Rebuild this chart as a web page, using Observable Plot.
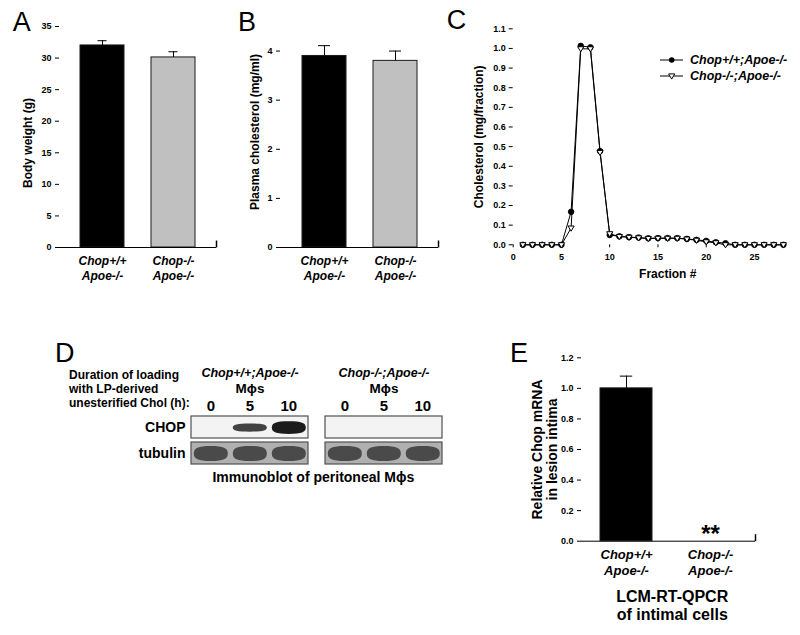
<!DOCTYPE html>
<html><head><meta charset="utf-8">
<script src="https://cdn.jsdelivr.net/npm/d3@7"></script>
<script src="https://cdn.jsdelivr.net/npm/@observablehq/plot@0.6"></script>
<style>
body{margin:0;background:#fff;}
#root{position:relative;width:800px;height:635px;overflow:hidden;font-family:"Liberation Sans",Arial,sans-serif;color:#000;background:#fff;}
.abs{position:absolute;white-space:pre;}
</style></head><body><div id="root"></div>
<script>
// ---------- data ----------
const genotypes = ["Chop+/+\nApoe-/-", "Chop-/-\nApoe-/-"];
const barFills = ["#000000", "#c0c0c0"];
const bodyWeight = [32.0, 30.1];
const bodyWeightErr = [0.75, 0.9];
const plasmaChol = [3.9, 3.8];
const plasmaCholErr = [0.21, 0.2];
const chopMrna = [1.0, 0.0];
const chopMrnaErr = [0.08, 0];
const chopMrnaSig = ["", "**"];

const fractions = [1,2,3,4,5,6,7,8,9,10,11,12,13,14,15,16,17,18,19,20,21,22,23,24,25,26,27,28];
const cholWT = [0,0,0,0,0,0.168,1.013,1.006,0.477,0.05,0.043,0.039,0.037,0.033,0.034,0.034,0.034,0.03,0.025,0.02,0.013,0.008,0,0,0,0,0,0];
const cholKO = [0,0,0,0,0,0.085,0.998,0.998,0.47,0.056,0.042,0.038,0.035,0.032,0.033,0.033,0.033,0.029,0.023,0.015,0.01,0,0,0,0,0,0,0];
const seriesNames = ["Chop+/+;Apoe-/-", "Chop-/-;Apoe-/-"];

const ticksA = [0,5,10,15,20,25,30,35];
const ticksB = [0,1,2,3,4];
const ticksCy = [0,0.1,0.2,0.3,0.4,0.5,0.6,0.7,0.8,0.9,1.0,1.1];
const ticksCx = [0,5,10,15,20,25];
const ticksE = [0,0.2,0.4,0.6,0.8,1.0,1.2];

const blotGroups = ["Chop+/+;Apoe-/-", "Chop-/-;Apoe-/-"];
const blotLanes = ["0","5","10"];
const blotRows = ["CHOP","tubulin"];
const blotCHOP = [[0,0.55,0.85],[0,0,0]];
const blotTubulin = [[1,1,1],[1,1,1]];

// ---------- helpers ----------
const root = document.getElementById("root");
const FONT = '"Liberation Sans", Arial, sans-serif';
const baseStyle = {fontFamily: FONT, fontWeight: "bold", background: "transparent", color: "black", overflow: "visible"};
function put(el, left, top){ el.style.position="absolute"; el.style.left=left+"px"; el.style.top=top+"px"; root.appendChild(el); return el; }
function txt(s, left, top, css){ const d=document.createElement("div"); d.className="abs"; d.textContent=s; Object.assign(d.style, css||{}); return put(d,left,top); }
const tickUp = {draw(ctx){ ctx.moveTo(0,0); ctx.lineTo(0,-7); }};
const triangleDown = {draw(ctx,size){ const r=Math.sqrt(size/Math.PI); ctx.moveTo(-r*1.1,-r*0.75); ctx.lineTo(r*1.1,-r*0.75); ctx.lineTo(0,r*1.1); ctx.closePath(); }};
const bandShape = {draw(ctx,size){ const ry=Math.sqrt(size/Math.PI), rx=17, k=0.75;
  ctx.moveTo(-rx,0); ctx.bezierCurveTo(-rx,-k*ry,-k*rx,-ry,0,-ry); ctx.bezierCurveTo(k*rx,-ry,rx,-k*ry,rx,0);
  ctx.bezierCurveTo(rx,k*ry,k*rx,ry,0,ry); ctx.bezierCurveTo(-k*rx,ry,-rx,k*ry,-rx,0); ctx.closePath(); }};

function barPanel(o){
  const data = genotypes.map((g,i)=>({g, v:o.values[i], e:o.errs[i], s:o.sig?o.sig[i]:"", fill:barFills[i]}));
  const marks = [
    Plot.barY(data, {x:"g", y:"v", fill:"fill", stroke:"#1a1a1a", strokeWidth:1}),
    Plot.ruleX(data.filter(d=>d.e>0), {x:"g", y1:"v", y2:d=>d.v+d.e, stroke:"black"}),
    Plot.tickY(data.filter(d=>d.e>0), {x:"g", y:d=>d.v+d.e, insetLeft:o.capInset, insetRight:o.capInset, stroke:"black"}),
    Plot.ruleY([0], {stroke:"black"}),
    Plot.axisY({ticks:o.ticks, tickSize:4, tickPadding:4, tickFormat:o.fmt, label:null, line:true, fontSize:9}),
    Plot.dot([0], {frameAnchor:"bottom-right", symbol:tickUp, stroke:"black", r:3}),
    Plot.text(data, {x:"g", text:"g", frameAnchor:"bottom", dy:o.catDy, lineAnchor:"top", lineHeight:o.catLH, fontSize:o.catSize, fontStyle:"italic"}),
    Plot.text([o.label], {text:d=>d, frameAnchor:"left", textAnchor:"middle", lineAnchor:"middle", rotate:-90, dx:o.labelDx, dy:o.labelDy, fontSize:o.labelSize, lineHeight:o.labelLH||1.1})
  ];
  if (o.sig) marks.push(Plot.text(data, {x:"g", y:"v", text:"s", dy:-7, fontSize:24}));
  if (o.caption) marks.push(Plot.text([o.caption], {text:d=>d, frameAnchor:"bottom", dx:o.capDx, dy:o.capDy, lineAnchor:"top", fontSize:16, lineHeight:1.14}));
  const p = Plot.plot({
    width:o.width, height:o.height, marginLeft:o.ml, marginRight:o.mr, marginTop:o.mt, marginBottom:o.mb,
    style:{...baseStyle, fontSize:"9px"},
    color:{type:"identity"},
    x:{type:"band", domain:genotypes, paddingInner:o.pi, paddingOuter:o.po, axis:null},
    y:{domain:[0,o.yMax], axis:null},
    marks
  });
  return put(p, o.left, o.top);
}

// ---------- Panel A ----------
barPanel({values:bodyWeight, errs:bodyWeightErr, ticks:ticksA, yMax:35, fmt:d=>d,
  left:0, top:0, width:230, height:300, ml:59, mr:14, mt:26, mb:53, pi:0.375, po:0.278, capInset:17.5,
  label:"Body weight (g)", labelDx:-32, labelDy:6, labelSize:12, catDy:8, catLH:1.17, catSize:12});

// ---------- Panel B ----------
barPanel({values:plasmaChol, errs:plasmaCholErr, ticks:ticksB, yMax:4.5, fmt:d=>d,
  left:220, top:0, width:230, height:300, ml:60, mr:12, mt:26, mb:53, pi:0.385, po:0.303, capInset:16,
  label:"Plasma cholesterol (mg/ml)", labelDx:-26, labelDy:-5, labelSize:12, catDy:8, catLH:1.17, catSize:12});

// ---------- Panel C ----------
{
  const dataC = [];
  seriesNames.forEach((s,si)=>fractions.forEach((f,i)=>dataC.push({s, f, v:(si===0?cholWT:cholKO)[i]})));
  const p = Plot.plot({
    width:370, height:300, marginLeft:82.7, marginRight:14.2, marginTop:28.3, marginBottom:55.7,
    style:{...baseStyle, fontSize:"9px"},
    x:{domain:[0,28.3], axis:null}, y:{domain:[0,1.1], axis:null},
    marks:[
      Plot.axisX({ticks:ticksCx, tickSize:3, tickPadding:6, label:null, line:true, fontSize:9}),
      Plot.axisY({ticks:ticksCy, tickSize:4, tickPadding:3.5, tickFormat:".1f", label:null, line:true, fontSize:9}),
      Plot.line(dataC, {x:"f", y:"v", z:"s", stroke:"black", strokeWidth:1}),
      Plot.dot(dataC.filter(d=>d.s===seriesNames[0]), {x:"f", y:"v", r:2.8, fill:"black", stroke:"black", strokeWidth:0.8}),
      Plot.dot(dataC.filter(d=>d.s===seriesNames[1]), {x:"f", y:"v", r:2.8, symbol:triangleDown, fill:"white", stroke:"black", strokeWidth:1}),
      Plot.text(["Fraction #"], {text:d=>d, frameAnchor:"bottom", dx:18, dy:32.7, fontSize:12}),
      Plot.text(["Cholesterol (mg/fraction)"], {text:d=>d, frameAnchor:"left", textAnchor:"middle", rotate:-90, dx:-34, dy:0, fontSize:12})
    ]
  });
  put(p, 430, 0);
  // legend
  const lg = d3.create("svg").attr("width",145).attr("height",36).style("overflow","visible");
  seriesNames.forEach((s,i)=>{
    const y = 10 + i*16;
    lg.append("line").attr("x1",5).attr("x2",28).attr("y1",y).attr("y2",y).attr("stroke","black");
    if (i===0) lg.append("circle").attr("cx",16.7).attr("cy",y).attr("r",2.8).attr("fill","black");
    else { const r=2.8; lg.append("path").attr("d",`M${16.7-r*1.1},${y-r*0.75}L${16.7+r*1.1},${y-r*0.75}L16.7,${y+r*1.1}Z`).attr("fill","white").attr("stroke","black"); }
    lg.append("text").attr("x",35).attr("y",y).attr("dy","0.35em").text(s)
      .attr("font-family",FONT).attr("font-weight","bold").attr("font-style","italic").attr("font-size",12.5);
  });
  put(lg.node(), 655, 50);
}

// ---------- Panel D ----------
{
  const blotData = [];
  blotGroups.forEach((g,gi)=>blotLanes.forEach((l,li)=>{
    blotData.push({g, lane:l, row:"CHOP", v:blotCHOP[gi][li]});
    blotData.push({g, lane:l, row:"tubulin", v:blotTubulin[gi][li]});
  }));
  const boxes = blotGroups.flatMap(g=>blotRows.map(r=>({g, row:r})));
  const p = Plot.plot({
    width:460, height:140, marginLeft:190.7, marginRight:18.3, marginTop:75, marginBottom:16,
    style:{...baseStyle, fontSize:"15px"},
    color:{type:"identity"},
    fx:{domain:blotGroups, paddingInner:0.13, paddingOuter:0, axis:null, label:null},
    x:{domain:blotLanes, paddingInner:0, paddingOuter:0, axis:null},
    y:{domain:blotRows, paddingInner:0.17, paddingOuter:0, axis:null},
    r:{type:"linear", domain:[0,1], range:[0,7.5]},
    marks:[
      Plot.cell(boxes, {fx:"g", y:"row", fill:d=>d.row==="CHOP"?"#f3f3f3":"#b0b0b0"}),
      Plot.dot(blotData, {fx:"g", x:"lane", y:"row", r:"v", symbol:bandShape,
        fill:d=>d.row==="CHOP"?"#080808":"#4a4a4a", fillOpacity:d=>d.row==="CHOP"?0.45+0.55*d.v:1, ariaLabel:"band"}),
      Plot.cell(boxes, {fx:"g", y:"row", fill:"none", stroke:"#505050", strokeWidth:1.2}),
      Plot.axisX({anchor:"top", tickSize:0, tickPadding:5, label:null, fontSize:15}),
      Plot.axisY({anchor:"left", tickSize:0, tickPadding:6, label:null, fontSize:14}),
      Plot.text(blotGroups, {fx:d=>d, text:d=>d, frameAnchor:"top", dy:-47, fontStyle:"italic", fontSize:12.5}),
      Plot.text(blotGroups, {fx:d=>d, text:()=>"Mϕs", frameAnchor:"top", dy:-32, fontSize:13.5})
    ]
  });
  d3.select(p).selectAll('g[aria-label="band"]').style("filter","blur(1.6px)");
  put(p, 0, 340);
  txt("Duration of loading\nwith LP-derived\nunesterified Chol (h):", 69, 368, {fontSize:"12px", fontWeight:"bold", lineHeight:"14.2px"});
  const cap = txt("Immunoblot of peritoneal Mϕs", 313.3, 469.7, {fontSize:"14px", fontWeight:"bold", lineHeight:"14px"});
  cap.style.transform = "translateX(-50%)";
}

// ---------- Panel E ----------
barPanel({values:chopMrna, errs:chopMrnaErr, sig:chopMrnaSig, ticks:ticksE, yMax:1.2, fmt:".1f",
  left:480, top:330, width:290, height:300, ml:101, mr:15, mt:27.3, mb:89.3, pi:0.38, po:0.217, capInset:19.8,
  label:"Relative Chop mRNA\nin lesion intima", labelDx:-37, labelDy:0, labelSize:14, labelLH:1.07,
  catDy:5.5, catLH:1.28, catSize:13, caption:"LCM-RT-QPCR\nof intimal cells", capDx:3.7, capDy:48});

// ---------- panel letters ----------
const letterCss = {fontSize:"27px", lineHeight:"27px", fontWeight:"normal"};
txt("A", 12.7, 8.8, letterCss);
txt("B", 238, 9, letterCss);
txt("C", 446.7, 7, letterCss);
txt("D", 55, 340.4, letterCss);
txt("E", 510, 340.4, letterCss);
</script></body></html>
